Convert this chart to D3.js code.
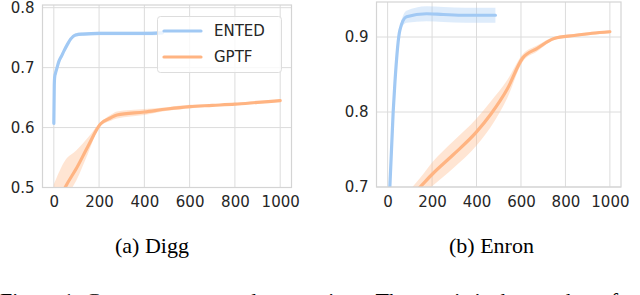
<!DOCTYPE html>
<html>
<head>
<meta charset="utf-8">
<script src="https://cdn.jsdelivr.net/npm/d3@7"></script>
<style>
  body { margin: 0; background: #fff; }
  svg { display: block; }
  .tick text { font-family: "DejaVu Sans", sans-serif; font-size: 15px; fill: #262626; }
</style>
</head>
<body>
<div id="chart"></div>
<script>
// colours from the seaborn pastel palette
let blue = "#a1c9f4", orange = "#ffb482";

let xTicks = [0, 200, 400, 600, 800, 1000];

// Digg panel
let diggEntedX = [0, 2, 4, 7, 12, 22, 35, 45, 59, 75, 96, 130, 200, 300, 400, 480];
let diggEntedY = [0.607, 0.67, 0.685, 0.69, 0.697, 0.71, 0.72, 0.728, 0.738, 0.748, 0.7545, 0.756, 0.757, 0.757, 0.757, 0.758];
let diggEntedErr = [0.004, 0.004, 0.004, 0.004, 0.004, 0.004, 0.004, 0.004, 0.004, 0.003, 0.003, 0.003, 0.003, 0.003, 0.003, 0.003];
let diggGptfX = [0, 50, 100, 150, 206, 250, 279, 400, 500, 600, 700, 800, 900, 1000];
let diggGptfY = [0.455, 0.5, 0.532, 0.568, 0.606, 0.616, 0.621, 0.626, 0.631, 0.635, 0.637, 0.639, 0.642, 0.645];
let diggGptfLo = [0.02, 0.02, 0.02, 0.012, 0.003, 0.005, 0.006, 0.005, 0.003, 0.003, 0.002, 0.002, 0.002, 0.002];
let diggGptfHi = [0.05, 0.045, 0.03, 0.015, 0.003, 0.005, 0.006, 0.005, 0.003, 0.003, 0.002, 0.002, 0.002, 0.002];

// Enron panel
let enronEntedX = [0, 10, 25, 33, 55, 85, 175, 250, 350, 485];
let enronEntedY = [0.62, 0.7, 0.8, 0.84, 0.909, 0.927, 0.931, 0.93, 0.929, 0.929];
let enronEntedErr = [0.002, 0.002, 0.002, 0.002, 0.003, 0.008, 0.01, 0.01, 0.01, 0.01];
let enronGptfX = [100, 146, 204, 295, 400, 464, 539, 607, 674, 749, 839, 920, 1000];
let enronGptfY = [0.686, 0.7, 0.718, 0.743, 0.7735, 0.797, 0.831, 0.8717, 0.885, 0.898, 0.902, 0.905, 0.907];
let enronGptfErr = [0.01, 0.012, 0.016, 0.018, 0.018, 0.017, 0.012, 0.005, 0.004, 0.002, 0.002, 0.002, 0.002];

let captions = ["(a) Digg", "(b) Enron"];
let legendLabels = ["ENTED", "GPTF"];

let svg = d3.select("#chart").append("svg")
    .attr("width", 640)
    .attr("height", 295);

function zip(xs, ys, lo, hi) {
    return xs.map(function (x, i) { return { x: x, y: ys[i], lo: ys[i] - lo[i], hi: ys[i] + hi[i] } });
}

function panel(opts) {
    let g = svg.append("g");
    let x = d3.scaleLinear().domain([-50, 1050]).range([opts.left, opts.right]);
    let y = d3.scaleLinear().domain(opts.yDomain).range([opts.bottom, opts.top]);

    let clipId = "clip" + opts.id;
    g.append("clipPath").attr("id", clipId).append("rect")
        .attr("x", opts.left).attr("y", opts.top)
        .attr("width", opts.right - opts.left).attr("height", opts.bottom - opts.top);

    // grid
    g.selectAll(".vgrid").data(xTicks).enter().append("line")
        .attr("x1", d => x(d)).attr("x2", d => x(d))
        .attr("y1", opts.top).attr("y2", opts.bottom)
        .attr("stroke", "#dcdcdc").attr("stroke-width", 1);
    g.selectAll(".hgrid").data(opts.yTicks).enter().append("line")
        .attr("x1", opts.left).attr("x2", opts.right)
        .attr("y1", d => y(d)).attr("y2", d => y(d))
        .attr("stroke", "#dcdcdc").attr("stroke-width", 1);

    // axes (labels only)
    let xa = g.append("g").attr("transform", "translate(0," + opts.bottom + ")")
        .call(d3.axisBottom(x).tickValues(xTicks).tickFormat(d3.format("d")).tickSize(0).tickPadding(9));
    xa.select(".domain").remove();
    let ya = g.append("g").attr("transform", "translate(" + opts.left + ",0)")
        .call(d3.axisLeft(y).tickValues(opts.yTicks).tickFormat(d3.format(".1f")).tickSize(0).tickPadding(8));
    ya.select(".domain").remove();

    let plot = g.append("g").attr("clip-path", "url(#" + clipId + ")");
    opts.series.forEach(function (s) {
        plot.append("path").datum(s.data)
            .attr("d", d3.area().x(d => x(d.x)).y0(d => y(d.lo)).y1(d => y(d.hi)).curve(d3.curveMonotoneX))
            .attr("fill", s.color).attr("fill-opacity", 0.35);
        plot.append("path").datum(s.data)
            .attr("d", d3.line().x(d => x(d.x)).y(d => y(d.y)).curve(d3.curveMonotoneX))
            .attr("fill", "none").attr("stroke", s.color).attr("stroke-width", 3.2)
            .attr("stroke-linecap", "round").attr("stroke-linejoin", "round");
    });

    // frame
    g.append("rect")
        .attr("x", opts.left).attr("y", opts.top)
        .attr("width", opts.right - opts.left).attr("height", opts.bottom - opts.top)
        .attr("fill", "none").attr("stroke", "#d4d4d4").attr("stroke-width", 1.2);

    g.append("text")
        .attr("x", opts.captionX).attr("y", 253)
        .attr("text-anchor", "middle")
        .style("font-family", "'Liberation Serif', 'Times New Roman', serif")
        .style("font-size", "22px")
        .attr("fill", "#000")
        .text(opts.caption);
    return g;
}

panel({
    id: 1, left: 42.5, right: 291.5, top: 5, bottom: 187.5,
    yDomain: [0.5, 0.8045], yTicks: [0.5, 0.6, 0.7, 0.8],
    caption: captions[0], captionX: 152,
    series: [
        { color: blue, data: zip(diggEntedX, diggEntedY, diggEntedErr, diggEntedErr) },
        { color: orange, data: zip(diggGptfX, diggGptfY, diggGptfLo, diggGptfHi) }
    ]
});

panel({
    id: 2, left: 376.5, right: 621, top: 2, bottom: 187,
    yDomain: [0.7, 0.9467], yTicks: [0.7, 0.8, 0.9],
    caption: captions[1], captionX: 491.5,
    series: [
        { color: blue, data: zip(enronEntedX, enronEntedY, enronEntedErr, enronEntedErr) },
        { color: orange, data: zip(enronGptfX, enronGptfY, enronGptfErr, enronGptfErr) }
    ]
});

// legend in the Digg panel
let legend = svg.append("g");
legend.append("rect")
    .attr("x", 157.5).attr("y", 16.5).attr("width", 124).attr("height", 56).attr("rx", 3)
    .attr("fill", "#fff").attr("fill-opacity", 0.8).attr("stroke", "#dddddd");
[blue, orange].forEach(function (c, i) {
    legend.append("line")
        .attr("x1", 164).attr("x2", 201).attr("y1", 31 + i * 26).attr("y2", 31 + i * 26)
        .attr("stroke", c).attr("stroke-width", 3.2).attr("stroke-linecap", "round");
    legend.append("text")
        .attr("x", 214).attr("y", 31 + i * 26).attr("dy", "0.36em")
        .style("font-family", "'DejaVu Sans', sans-serif").style("font-size", "15px")
        .attr("fill", "#262626")
        .text(legendLabels[i]);
});

// figure caption, cut off by the bottom edge as in the source page
svg.append("text")
    .attr("x", 0).attr("y", 307.5)
    .style("font-family", "'Liberation Serif', 'Times New Roman', serif")
    .style("font-size", "22px")
    .text("Figure 1:  Convergence speed comparison.  The x-axis is the number of");
</script>
</body>
</html>
